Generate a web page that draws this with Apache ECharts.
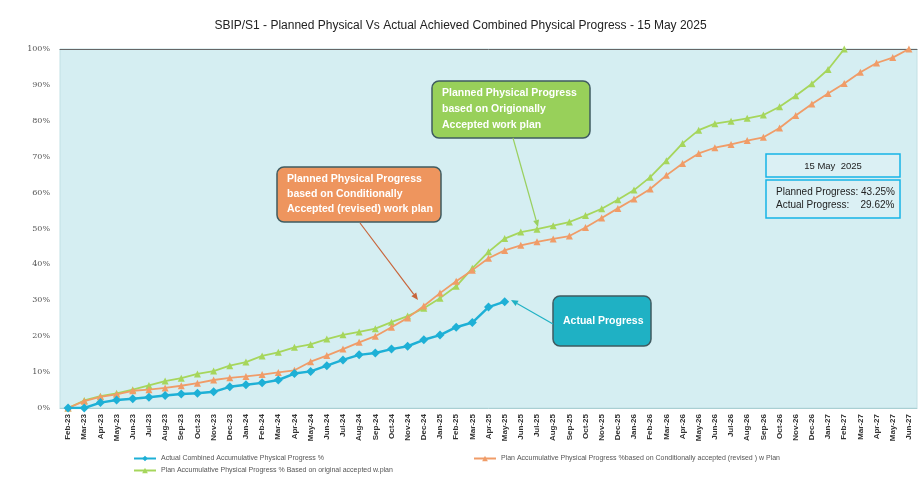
<!DOCTYPE html>
<html lang="en">
<head>
    <meta charset="UTF-8">
    <title>SBIP/S1 Physical Progress</title>
    <script src="https://cdn.jsdelivr.net/npm/echarts@6/dist/echarts.min.js"></script>
    <style>
        html, body { margin: 0; padding: 0; background: #fff; }
        #chart { width: 921px; height: 480px; }
    </style>
</head>
<body>
<div id="chart"></div>
<script>
    // months Feb 23 .. Jun 27
    const months = ['Feb-23','Mar-23','Apr-23','May-23','Jun-23','Jul-23','Aug-23','Sep-23','Oct-23','Nov-23','Dec-23',
        'Jan-24','Feb-24','Mar-24','Apr-24','May-24','Jun-24','Jul-24','Aug-24','Sep-24','Oct-24','Nov-24','Dec-24',
        'Jan-25','Feb-25','Mar-25','Apr-25','May-25','Jun-25','Jul-25','Aug-25','Sep-25','Oct-25','Nov-25','Dec-25',
        'Jan-26','Feb-26','Mar-26','Apr-26','May-26','Jun-26','Jul-26','Aug-26','Sep-26','Oct-26','Nov-26','Dec-26',
        'Jan-27','Feb-27','Mar-27','Apr-27','May-27','Jun-27'];

    const actual = [0, 0, 1.5, 2.2, 2.6, 3.0, 3.5, 3.9, 4.1, 4.5, 5.9, 6.5, 7.0, 7.8, 9.6, 10.2, 11.8, 13.4, 14.8, 15.3,
        16.4, 17.2, 19.0, 20.3, 22.5, 23.8, 28.1, 29.62];

    const planRevised = [0, 1.9, 3.1, 3.8, 4.8, 5.1, 5.6, 6.2, 6.9, 7.8, 8.4, 8.8, 9.3, 9.9, 10.5, 12.9, 14.6, 16.4, 18.3,
        20.0, 22.5, 25.1, 28.4, 32.0, 35.3, 38.4, 41.7, 43.9, 45.3, 46.3, 47.1, 47.9, 50.3, 52.9, 55.6, 58.2, 61.0,
        64.8, 68.1, 70.9, 72.5, 73.4, 74.5, 75.4, 78.0, 81.5, 84.7, 87.6, 90.4, 93.5, 96.1, 97.6, 100];

    const planOriginal = [0, 2.1, 3.3, 4.1, 5.1, 6.3, 7.5, 8.3, 9.5, 10.3, 11.8, 12.8, 14.5, 15.5, 16.9, 17.7, 19.2, 20.4,
        21.2, 22.1, 23.9, 25.6, 27.8, 30.6, 33.9, 38.9, 43.5, 47.2, 49.0, 49.8, 50.8, 51.8, 53.6, 55.5, 58.0, 60.7,
        64.3, 68.9, 73.7, 77.4, 79.2, 79.9, 80.7, 81.6, 83.9, 87.0, 90.3, 94.3, 100];

    const yTicks = [0, 10, 20, 30, 40, 50, 60, 70, 80, 90, 100];

    const FONT = 'Liberation Sans';
    const BLUE = '#1eb0d6', ORANGE = '#f09c68', GREEN = '#a6d65c';
    const nameActual = 'Actual Combined Accumulative Physical Progress %';
    const nameRevised = 'Plan Accumulative Physical Progress %based on Conditionally accepted (revised ) w Plan';
    const nameOriginal = 'Plan Accumulative Physical Progress % Based on original accepted w.plan';

    // callout box with text
    let callout = (x, y, w, h, fill, lines, lh) => {
        let items = [{
            type: 'rect', shape: {x: x, y: y, width: w, height: h, r: 7},
            style: {fill: fill, stroke: '#3f5b60', lineWidth: 1.5}
        }];
        items.push({
            type: 'text', x: x + 10, y: y + h / 2,
            style: {text: lines.join('\n'), fill: '#fff', font: 'bold 10.5px ' + FONT,
                textVerticalAlign: 'middle', lineHeight: lh}
        });
        return items;
    };

    let arrow = (x1, y1, x2, y2, color) => {
        const a = Math.atan2(y2 - y1, x2 - x1), L = 7, W = 3;
        const bx = x2 - L * Math.cos(a), by = y2 - L * Math.sin(a);
        return [
            {type: 'line', shape: {x1: x1, y1: y1, x2: bx, y2: by}, style: {stroke: color, lineWidth: 1.2}},
            {type: 'polygon', shape: {points: [[x2, y2],
                        [bx + W * Math.sin(a), by - W * Math.cos(a)],
                        [bx - W * Math.sin(a), by + W * Math.cos(a)]]}, style: {fill: color}}
        ];
    };

    let graphics = [].concat(
        callout(432, 81, 158, 57, '#98d05a', ['Planned Physical Progress', 'based on Origionally', 'Accepted work plan'], 16),
        callout(277, 167, 164, 55, '#ee955e', ['Planned Physical Progress', 'based on Conditionally', 'Accepted (revised) work plan'], 15),
        callout(553, 296, 98, 50, '#1fb1c4', ['Actual Progress'], 14),
        arrow(513, 138, 538, 227, '#9ad060'),
        arrow(360, 223, 418, 300, '#c8643a'),
        arrow(553, 324, 511, 300, '#1fb1c4'),
        [
            {type: 'rect', shape: {x: 766, y: 154, width: 134, height: 23},
                style: {fill: 'rgba(255,255,255,0.15)', stroke: '#16b4e6', lineWidth: 1.5}},
            {type: 'text', x: 833, y: 166, style: {text: '15 May  2025', fill: '#222', font: '9.5px ' + FONT,
                    textAlign: 'center', textVerticalAlign: 'middle'}},
            {type: 'rect', shape: {x: 766, y: 180, width: 134, height: 38},
                style: {fill: 'rgba(255,255,255,0.15)', stroke: '#16b4e6', lineWidth: 1.5}},
            {type: 'text', x: 776, y: 199, style: {text: 'Planned Progress: 43.25%\nActual Progress:    29.62%',
                    fill: '#222', font: '10px ' + FONT, textVerticalAlign: 'middle', lineHeight: 13}}
        ]
    );

    let myChart = echarts.init(document.getElementById('chart'), null, {renderer: 'canvas'});
    myChart.setOption({
        animation: false,
        backgroundColor: '#fff',
        title: {
            text: 'SBIP/S1 - Planned Physical Vs Actual Achieved Combined Physical Progress - 15 May 2025',
            left: 'center', top: 15,
            textStyle: {fontFamily: FONT, fontSize: 12, fontWeight: 'normal', color: '#222'}
        },
        legend: [
            {data: [nameActual], left: 128, top: 450, itemWidth: 22, itemHeight: 7,
                textStyle: {fontFamily: FONT, fontSize: 7, color: '#555'}},
            {data: [nameRevised], left: 468, top: 450, itemWidth: 22, itemHeight: 7,
                textStyle: {fontFamily: FONT, fontSize: 7, color: '#555'}},
            {data: [nameOriginal], left: 128, top: 462, itemWidth: 22, itemHeight: 7,
                textStyle: {fontFamily: FONT, fontSize: 7, color: '#555'}}
        ],
        grid: {
            left: 60, right: 4, top: 49, bottom: 72, show: true,
            backgroundColor: '#d5eef2', borderColor: '#c2e0e4', borderWidth: 1
        },
        xAxis: [{
            type: 'category', data: months, boundaryGap: true,
            axisLine: {lineStyle: {color: '#a9cfd3'}},
            axisTick: {show: false},
            axisLabel: {rotate: 90, interval: 0, fontFamily: FONT, fontSize: 8, fontWeight: 'bold', color: '#333', margin: 6}
        }, {
            type: 'category', data: months, position: 'top',
            axisLine: {lineStyle: {color: '#666', width: 1}},
            axisTick: {show: false}, axisLabel: {show: false}
        }],
        yAxis: {
            type: 'value', min: 0, max: 100, interval: 10,
            axisLine: {show: false}, axisTick: {show: false}, splitLine: {show: false},
            axisLabel: {formatter: v => yTicks.includes(v) ? v + '%' : '', fontFamily: 'DejaVu Serif',
                fontSize: 8, color: '#555', margin: 10}
        },
        series: [
            {name: nameOriginal, type: 'line', data: planOriginal, symbol: 'triangle', symbolSize: 7,
                itemStyle: {color: GREEN}, lineStyle: {color: GREEN, width: 1.8}, z: 2},
            {name: nameRevised, type: 'line', data: planRevised, symbol: 'triangle', symbolSize: 7,
                itemStyle: {color: ORANGE}, lineStyle: {color: ORANGE, width: 1.8}, z: 3},
            {name: nameActual, type: 'line', data: actual, symbol: 'diamond', symbolSize: 9,
                itemStyle: {color: BLUE}, lineStyle: {color: BLUE, width: 2.5}, z: 4}
        ],
        graphic: graphics
    });
</script>
</body>
</html>
